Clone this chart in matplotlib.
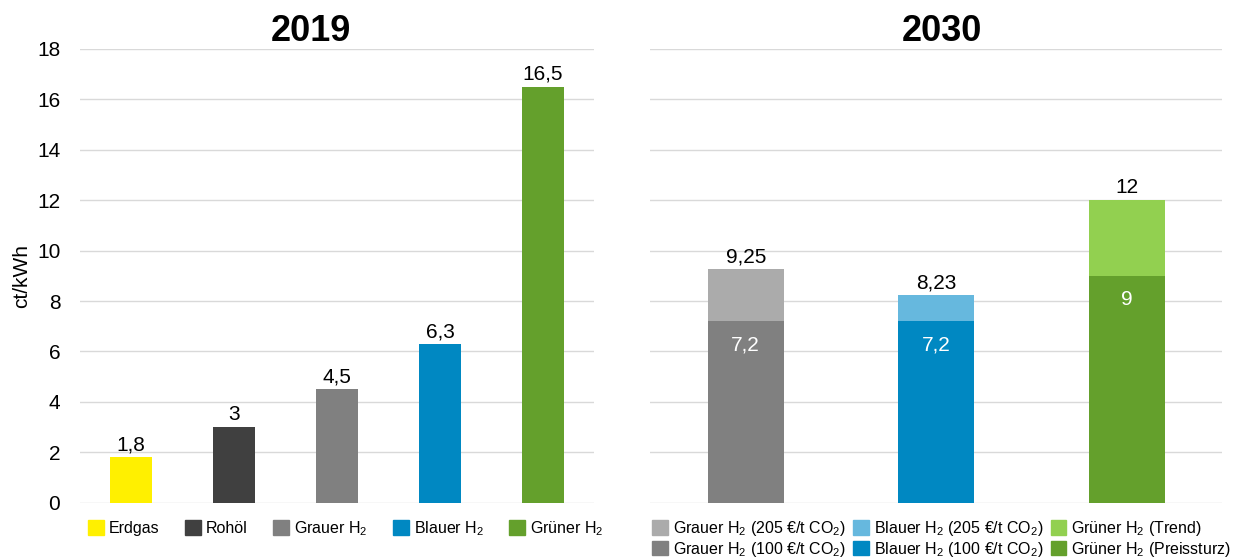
import matplotlib
matplotlib.use("Agg")
import matplotlib.pyplot as plt
from matplotlib.patches import Patch

plt.rcParams["font.family"] = ["Liberation Sans", "DejaVu Sans"]
plt.rcParams["mathtext.fontset"] = "custom"
plt.rcParams["mathtext.rm"] = "Liberation Sans"

H2 = r"H$_\mathrm{2}$"
CO2 = r"CO$_\mathrm{2}$"

# 2019
cats_2019 = ["Erdgas", "Rohöl", f"Grauer {H2}", f"Blauer {H2}", f"Grüner {H2}"]
vals_2019 = [1.8, 3, 4.5, 6.3, 16.5]
labels_2019 = ["1,8", "3", "4,5", "6,3", "16,5"]
colors_2019 = ["#FFF000", "#404040", "#808080", "#0088C2", "#64A02C"]

# 2030 (stacked: base + top part)
base_2030 = [7.2, 7.2, 9]
total_2030 = [9.25, 8.23, 12]
base_labels = ["7,2", "7,2", "9"]
total_labels = ["9,25", "8,23", "12"]
base_colors = ["#808080", "#0088C2", "#64A02C"]
top_colors = ["#ABABAB", "#66B8DE", "#92D050"]
top_names = [f"Grauer {H2} (205 €/t {CO2})", f"Blauer {H2} (205 €/t {CO2})", f"Grüner {H2} (Trend)"]
base_names = [f"Grauer {H2} (100 €/t {CO2})", f"Blauer {H2} (100 €/t {CO2})", f"Grüner {H2} (Preissturz)"]

GRID = "#D9D9D9"
FS = 15
LFS = 11.5

fig = plt.figure(figsize=(12.46, 5.6), dpi=100)
ax1 = fig.add_axes([0.064, 0.102, 0.413, 0.811])
ax2 = fig.add_axes([0.522, 0.102, 0.459, 0.811])

for ax in (ax1, ax2):
    ax.set_ylim(0, 18)
    ax.set_yticks(range(0, 19, 2))
    ax.grid(True, axis="y", color=GRID, linewidth=1)
    ax.set_axisbelow(True)
    for s in ax.spines.values():
        s.set_visible(False)
    ax.tick_params(axis="both", length=0, labelsize=FS)
    ax.tick_params(axis="y", pad=14)
    ax.set_xticks([])

# left panel
x1 = range(len(cats_2019))
ax1.bar(x1, vals_2019, width=0.41, color=colors_2019)
for x, v, t in zip(x1, vals_2019, labels_2019):
    ax1.annotate(t, (x, v), xytext=(0, 2), textcoords="offset points",
                 ha="center", va="bottom", fontsize=FS)
ax1.set_xlim(-0.5, len(cats_2019) - 0.5)
ax1.set_ylabel("ct/kWh", fontsize=FS, labelpad=4)
ax1.set_title("2019", fontsize=26, fontweight="bold", pad=3, x=0.45)
ax1.legend([Patch(color=c) for c in colors_2019], cats_2019, loc="upper left",
           bbox_to_anchor=(-0.012, -0.004), ncol=5, frameon=False, fontsize=LFS,
           handlelength=1.0, handleheight=1.0, handletextpad=0.3, columnspacing=1.6)

# right panel
x2 = range(len(base_2030))
tops = [t - b for t, b in zip(total_2030, base_2030)]
ax2.bar(x2, base_2030, width=0.40, color=base_colors)
ax2.bar(x2, tops, bottom=base_2030, width=0.40, color=top_colors)
for x, b, t, bl, tl in zip(x2, base_2030, total_2030, base_labels, total_labels):
    ax2.annotate(tl, (x, t), xytext=(0, 2), textcoords="offset points",
                 ha="center", va="bottom", fontsize=FS)
    ax2.annotate(bl, (x, b), xytext=(0, -10), textcoords="offset points",
                 ha="center", va="top", fontsize=FS, color="white")
ax2.set_xlim(-0.5, len(base_2030) - 0.5)
ax2.set_yticklabels([])
ax2.set_title("2030", fontsize=26, fontweight="bold", pad=3, x=0.51)

handles, names = [], []
for tc, bc, tn, bn in zip(top_colors, base_colors, top_names, base_names):
    handles += [Patch(color=tc), Patch(color=bc)]
    names += [tn, bn]
ax2.legend(handles, names, loc="upper left", bbox_to_anchor=(-0.022, -0.004), ncol=3,
           frameon=False, fontsize=LFS, handlelength=1.0, handleheight=1.0,
           handletextpad=0.3, columnspacing=0.45, labelspacing=0.1)

fig.savefig("out.png", dpi=100)
